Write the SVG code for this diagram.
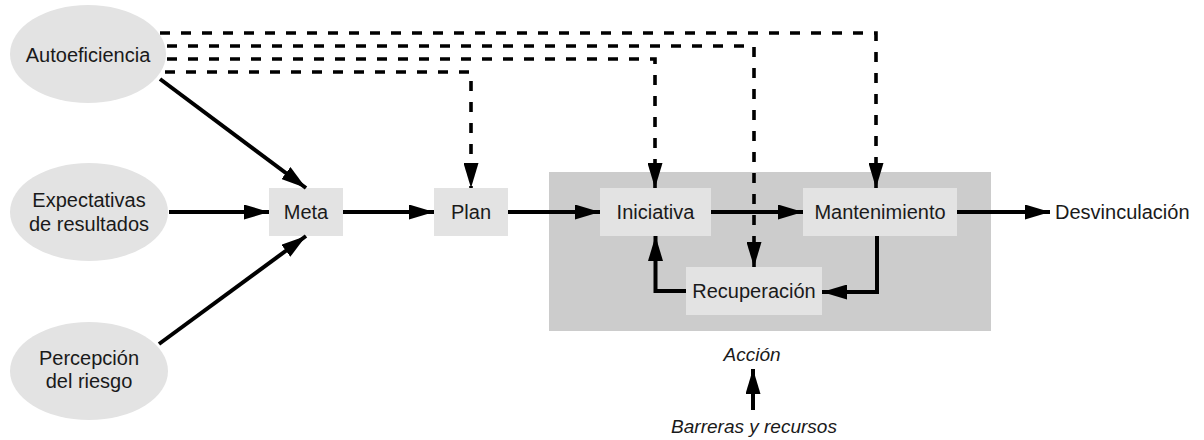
<svg xmlns="http://www.w3.org/2000/svg" width="1204" height="440" viewBox="0 0 1204 440">
  <defs>
    <marker id="arrow" viewBox="0 0 25 15" refX="25" refY="7.5" markerWidth="25" markerHeight="15" markerUnits="userSpaceOnUse" orient="auto">
      <path d="M0,0 L25,7.5 L0,15 z" fill="#000"/>
    </marker>
    <style>
      .bg { fill: #ffffff; }
      .factor { fill: #e3e3e3; }
      .box { fill: #e3e3e3; }
      .action { fill: #cccccc; }
      .label { font-family: "Liberation Sans", Arial, sans-serif; font-size: 20px; fill: #1a1a1a; text-anchor: middle; }
      .note { font-family: "Liberation Sans", Arial, sans-serif; font-size: 19px; font-style: italic; fill: #1a1a1a; text-anchor: middle; }
      .solid { fill: none; stroke: #000; stroke-width: 4; marker-end: url(#arrow); }
      .elbow { fill: none; stroke: #000; stroke-width: 4; stroke-linejoin: miter; marker-end: url(#arrow); }
      .dashed { fill: none; stroke: #000; stroke-width: 3.6; stroke-dasharray: 10 11; marker-end: url(#arrow); }
    </style>
  </defs>

  <rect class="bg" x="0" y="0" width="1204" height="440"/>

  <!-- action stage background -->
  <g id="accion">
    <rect class="action" x="549" y="172" width="442" height="159"/>
    <text class="note" x="752" y="361">Acción</text>
  </g>

  <g id="autoeficiencia">
    <ellipse class="factor" cx="88" cy="54" rx="78" ry="49"/>
    <text class="label" x="88" y="62">Autoeficiencia</text>
  </g>
  <g id="expectativas">
    <ellipse class="factor" cx="89" cy="212" rx="79" ry="49"/>
    <text class="label" x="89" y="207">Expectativas</text>
    <text class="label" x="89" y="231">de resultados</text>
  </g>
  <g id="percepcion">
    <ellipse class="factor" cx="89" cy="371" rx="79" ry="49"/>
    <text class="label" x="89" y="365">Percepción</text>
    <text class="label" x="89" y="388">del riesgo</text>
  </g>

  <g id="meta">
    <rect class="box" x="269" y="188" width="74" height="48"/>
    <text class="label" x="306" y="219">Meta</text>
  </g>
  <g id="plan">
    <rect class="box" x="434" y="188" width="74" height="48"/>
    <text class="label" x="471" y="219">Plan</text>
  </g>
  <g id="iniciativa">
    <rect class="box" x="600" y="188" width="111" height="48"/>
    <text class="label" x="655.5" y="219">Iniciativa</text>
  </g>
  <g id="mantenimiento">
    <rect class="box" x="803" y="188" width="154" height="48"/>
    <text class="label" x="880" y="219">Mantenimiento</text>
  </g>
  <g id="recuperacion">
    <rect class="box" x="686" y="267" width="136" height="48"/>
    <text class="label" x="754" y="298">Recuperación</text>
  </g>
  <g id="desvinculacion">
    <text class="label" x="1055" y="219" style="text-anchor: start">Desvinculación</text>
  </g>
  <g id="barreras">
    <text class="note" x="754" y="433">Barreras y recursos</text>
  </g>

  <g id="connectors">
    <!-- determinants of the goal -->
    <line class="solid" x1="160" y1="79" x2="306" y2="188"/>
    <line class="solid" x1="169" y1="212" x2="269" y2="212"/>
    <line class="solid" x1="159" y1="344" x2="306" y2="236"/>
    <!-- main sequence -->
    <line class="solid" x1="343" y1="212" x2="434" y2="212"/>
    <line class="solid" x1="508" y1="212" x2="600" y2="212"/>
    <line class="solid" x1="711" y1="212" x2="803" y2="212"/>
    <line class="solid" x1="957" y1="212" x2="1050" y2="212"/>
    <!-- relapse loop -->
    <path class="elbow" d="M877,236 V292 H822"/>
    <path class="elbow" d="M686,291 H655.5 V236"/>
    <!-- self-efficacy influence -->
    <path class="dashed" d="M160,33 H876 V188"/>
    <path class="dashed" d="M167,46 H754 V267"/>
    <path class="dashed" d="M167,59 H655 V188"/>
    <path class="dashed" d="M165,72 H471 V188"/>
    <!-- barriers and resources -->
    <line class="solid" x1="753" y1="410" x2="753" y2="369"/>
  </g>
</svg>
